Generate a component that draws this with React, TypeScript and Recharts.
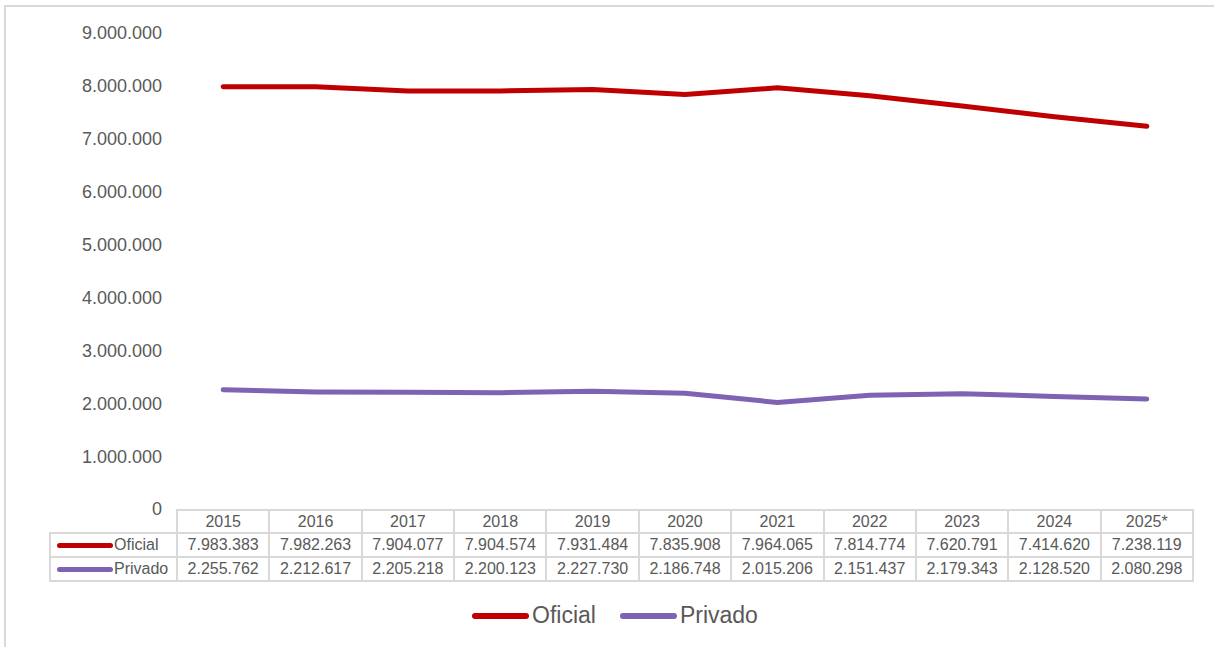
import { LineChart, Line, XAxis, YAxis } from 'recharts'

const years = ['2015', '2016', '2017', '2018', '2019', '2020', '2021', '2022', '2023', '2024', '2025*']
const oficial = [7983383, 7982263, 7904077, 7904574, 7931484, 7835908, 7964065, 7814774, 7620791, 7414620, 7238119]
const privado = [2255762, 2212617, 2205218, 2200123, 2227730, 2186748, 2015206, 2151437, 2179343, 2128520, 2080298]
const yTicks = [0, 1000000, 2000000, 3000000, 4000000, 5000000, 6000000, 7000000, 8000000, 9000000]

const RED = '#c00000'
const PURPLE = '#7e62b3'
const GRID = '#d9d9d9'
const TEXT = '#595959'
const FONT = '"Liberation Sans", Arial, Helvetica, sans-serif'

const fmt = (n: number) => String(n).replace(/\B(?=(\d{3})+(?!\d))/g, '.')

const data = years.map((year, i) => ({ year, Oficial: oficial[i], Privado: privado[i] }))

const PLOT_LEFT = 177
const PLOT_RIGHT = 1193
const COL_W = (PLOT_RIGHT - PLOT_LEFT) / years.length

const cell: React.CSSProperties = {
  border: `2px solid ${GRID}`,
  padding: 0,
  textAlign: 'center',
  fontSize: 16,
  color: TEXT,
  whiteSpace: 'nowrap',
}

const Key = ({ color, w, h }: { color: string; w: number; h: number }) => (
  <span style={{ display: 'inline-block', width: w, height: h, borderRadius: h / 2, background: color, verticalAlign: 'middle' }} />
)

export default function App() {
  return (
    <div style={{ position: 'absolute', left: 0, top: 0, width: 1214, height: 647, overflow: 'hidden', background: '#fff', fontFamily: FONT }}>
      <div style={{ position: 'absolute', left: 4, top: 5, width: 1300, height: 800, border: `2px solid ${GRID}` }} />
      <div style={{ position: 'absolute', left: 0, top: 0 }}>
        <LineChart width={1214} height={520} data={data} margin={{ top: 33, right: 1214 - PLOT_RIGHT, left: 0, bottom: 11 }}>
          <XAxis dataKey="year" hide padding={{ left: COL_W / 2, right: COL_W / 2 }} />
          <YAxis
            width={PLOT_LEFT}
            domain={[0, 9000000]}
            ticks={yTicks}
            tickFormatter={fmt}
            axisLine={false}
            tickLine={false}
            tickSize={0}
            tickMargin={15}
            tick={{ fontSize: 18, fill: TEXT, fontFamily: FONT }}
          />
          <Line type="linear" dataKey="Oficial" stroke={RED} strokeWidth={5} dot={false} strokeLinecap="round" strokeLinejoin="round" isAnimationActive={false} />
          <Line type="linear" dataKey="Privado" stroke={PURPLE} strokeWidth={5} dot={false} strokeLinecap="round" strokeLinejoin="round" isAnimationActive={false} />
        </LineChart>
      </div>

      <table style={{ position: 'absolute', left: 49, top: 509, borderCollapse: 'collapse', tableLayout: 'fixed', fontFamily: FONT }}>
        <colgroup>
          <col style={{ width: PLOT_LEFT - 50 }} />
          {years.map((y) => (
            <col key={y} style={{ width: COL_W }} />
          ))}
        </colgroup>
        <tbody>
          <tr style={{ height: 23 }}>
            <td style={{ border: 'none', borderBottom: `2px solid ${GRID}` }} />
            {years.map((y) => (
              <td key={y} style={cell}>{y}</td>
            ))}
          </tr>
          <tr style={{ height: 24 }}>
            <td style={{ ...cell, textAlign: 'left', paddingLeft: 6 }}>
              <Key color={RED} w={56} h={5} />
              <span style={{ verticalAlign: 'middle', marginLeft: 1 }}>Oficial</span>
            </td>
            {oficial.map((v, i) => (
              <td key={i} style={cell}>{fmt(v)}</td>
            ))}
          </tr>
          <tr style={{ height: 24 }}>
            <td style={{ ...cell, textAlign: 'left', paddingLeft: 6 }}>
              <Key color={PURPLE} w={56} h={5} />
              <span style={{ verticalAlign: 'middle', marginLeft: 1 }}>Privado</span>
            </td>
            {privado.map((v, i) => (
              <td key={i} style={cell}>{fmt(v)}</td>
            ))}
          </tr>
        </tbody>
      </table>

      <div style={{ position: 'absolute', left: 472, top: 602, display: 'flex', alignItems: 'center', fontSize: 23, color: TEXT, fontFamily: FONT }}>
        <Key color={RED} w={57} h={6} />
        <span style={{ marginLeft: 3 }}>Oficial</span>
        <span style={{ display: 'inline-block', width: 24 }} />
        <Key color={PURPLE} w={57} h={6} />
        <span style={{ marginLeft: 3 }}>Privado</span>
      </div>
    </div>
  )
}
